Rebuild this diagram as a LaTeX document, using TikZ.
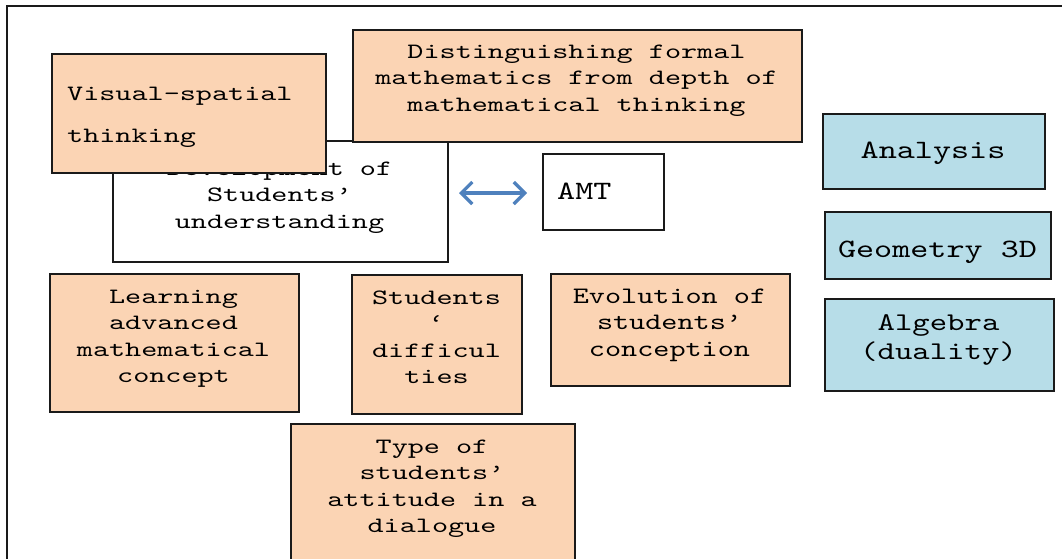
\documentclass[tikz,border=0pt]{standalone}
\usepackage{fontspec}
\newfontfamily\courN{lmmono10-regular.otf}[FakeStretch=1.40]
\newfontfamily\courW{lmmono10-regular.otf}[FakeStretch=1.30]
\newcommand\myfnt[3]{#1\fontsize{#2pt}{#3pt}\selectfont}
\usetikzlibrary{arrows.meta}
\definecolor{peach}{RGB}{251,212,180}
\definecolor{lblue}{RGB}{183,221,232}
\definecolor{arrblue}{RGB}{79,129,189}
\definecolor{edge}{RGB}{26,26,26}
\tikzset{
  box/.style={draw=edge, line width=2pt, rectangle, inner sep=0pt, anchor=north west},
  pbox/.style={box, fill=peach},
  bbox/.style={box, fill=lblue},
  wbox/.style={box, fill=white},
  wsp/.style={execute at begin node={\spaceskip=#1\relax\xspaceskip=#1\relax}},
  txt/.style={inner sep=0pt, anchor=base, align=center, text width=#1,
    font=\myfnt{\courN}{21.9}{26.5}, wsp=16.1pt},
  txt/.default=300pt,
  ltxt/.style={inner sep=0pt, anchor=base west, align=left, text width=#1,
    font=\myfnt{\courN}{21.9}{26.5}, wsp=16.1pt},
  ltxt/.default=250pt,
  big/.style={font=\myfnt{\courW}{26.5}{28}, wsp=18.1pt},
  mid/.style={font=\myfnt{\courW}{23.6}{26.7}, wsp=16.1pt},
  dblarrow/.style={arrblue, line width=3.2pt,
    {Straight Barb[length=11pt,width=22pt]}-{Straight Barb[length=11pt,width=22pt]}},
}
\begin{document}
\begin{tikzpicture}[x=1pt,y=-1pt]
\useasboundingbox (0,0) rectangle (1062,558);
\clip (0,0) rectangle (1062,558);
% outer frame
\draw[line width=2pt, edge] (7,6) rectangle (1100,600);
% development box
\node[wbox, minimum width=335pt, minimum height=121pt] (dev) at (112,140) {};
\node[txt] (devT) at (279.5,175) {Development of\\Students’\\understanding};
% visual-spatial
\node[pbox, minimum width=274pt, minimum height=119pt] (vis) at (51,53) {};
\node[ltxt, font=\myfnt{\courN}{21.9}{42}] (visT) at (67,100) {Visual-spatial\\thinking};
% distinguishing
\node[pbox, minimum width=449pt, minimum height=112pt] (dis) at (352,29) {};
\node[txt=440pt] (disT) at (576.5,58) {Distinguishing formal\\mathematics from depth of\\mathematical thinking};
% AMT
\node[wbox, minimum width=121pt, minimum height=76pt] (amt) at (542,153) {};
\node[ltxt=100pt, big] (amtT) at (557,199) {AMT};
% arrow
\draw[dblarrow, shorten <=10pt, shorten >=15pt] (dev.east |- 0,193) -- (amt.west |- 0,193);
% right blue boxes
\node[bbox, minimum width=222pt, minimum height=75pt] (ana) at (822,113) {};
\node[txt, big] (anaT) at (933,158) {Analysis};
\node[bbox, minimum width=226pt, minimum height=67pt] (geo) at (824,211) {};
\node[txt, big] (geoT) at (937.5,257) {Geometry 3D};
\node[bbox, minimum width=229pt, minimum height=92pt] (alg) at (824,298) {};
\node[txt, font=\myfnt{\courW}{25.5}{28.5}, wsp=17.4pt] (algT) at (938.5,330.5) {Algebra\\(duality)};
% bottom peach boxes
\node[pbox, minimum width=249pt, minimum height=138pt] (lea) at (49,273) {};
\node[txt] (leaT) at (173.5,303) {Learning\\advanced\\mathematical\\concept};
\node[pbox, minimum width=170pt, minimum height=139pt] (stu) at (351,274) {};
\node[txt] (stuT) at (436.5,304) {Students\\‘\\difficul\\ties};
\node[pbox, minimum width=239pt, minimum height=112pt] (evo) at (550,273) {};
\node[txt, mid] (evoT) at (669.5,303) {Evolution of\\students’\\conception};
\node[pbox, minimum width=284pt, minimum height=180pt] (typ) at (290,423) {};
\node[txt] (typT) at (432,453) {Type of\\students’\\attitude in a\\dialogue};
\end{tikzpicture}
\end{document}
